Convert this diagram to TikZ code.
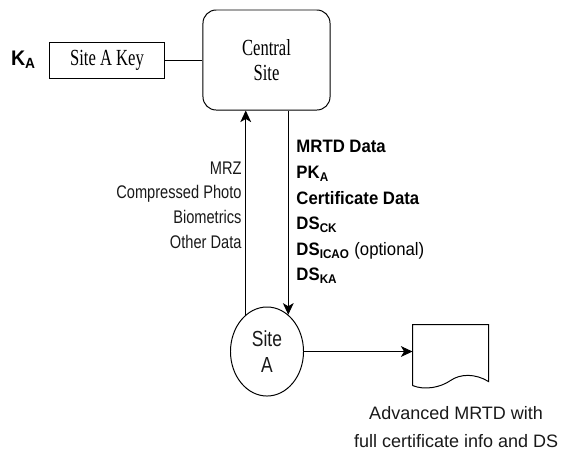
\documentclass[tikz,border=0pt]{standalone}
\usepackage{fontspec}
\setmainfont{Liberation Serif}
\newfontfamily\keyfont[FakeStretch=0.72]{Liberation Serif}
\newfontfamily\flowfont[FakeStretch=0.8]{Liberation Sans}
\newfontfamily\datafont[FakeStretch=0.93]{Liberation Sans}
\newfontfamily\capfont{Liberation Sans}
\usetikzlibrary{arrows.meta,shapes.geometric,positioning}

\begin{document}
\begin{tikzpicture}[x=0.025cm,y=-0.025cm,line width=0.7pt,
	flow/.style={-{Stealth[length=0.29cm,width=0.27cm,inset=0.08cm]}},
	box/.style={draw,inner sep=0pt},
	serifbox/.style={font=\keyfont\fontsize{16.4}{17.8}\selectfont}]
	\useasboundingbox (0,0) rectangle (569,450);

	\node (central) at (266.5,60) [box,serifbox,rounded corners=0.33cm,minimum width=3.175cm,minimum height=2.5cm,align=center] {Central\\Site};
	\node (key) at (107,60) [box,serifbox,minimum width=2.85cm,minimum height=0.9cm] {Site A Key};
	\node (ka) [left=0.33cm of key,inner sep=0pt,font=\datafont\bfseries\fontsize{15}{18}\selectfont] {K\textsubscript{A}};
	\node (siteA) at (267,351.5) [draw,ellipse,inner sep=0pt,minimum width=1.825cm,minimum height=2.225cm,align=center,font=\flowfont\fontsize{15.5}{18.5}\selectfont,text=black!90] {Site\\A};
	\node (doc) at (450.5,355) [minimum width=1.875cm,minimum height=1.5cm,inner sep=0pt] {};
	\node (caption) [below=0.52cm of doc,xshift=0.14cm,inner sep=0pt,align=center,font=\capfont\fontsize{12.8}{19.4}\selectfont,text=black!90] {Advanced MRTD with\\full certificate info and DS};

	% what goes up to the central site
	\node (upload) at (242,161) [anchor=north east,inner sep=0pt,align=right,font=\flowfont\fontsize{13}{17.6}\selectfont,text=black!90] {MRZ\\Compressed Photo\\Biometrics\\Other Data};
	% what comes back down
	\node (download) at (296,140) [anchor=north west,inner sep=0pt,align=left,font=\datafont\bfseries\fontsize{12.8}{18.2}\selectfont] {MRTD Data\\PK\textsubscript{A}\\Certificate Data\\DS\textsubscript{CK}\\DS\textsubscript{ICAO} {\mdseries(optional)}\\DS\textsubscript{KA}};

	\draw (key) -- (central);
	\draw [flow] (siteA.120) -- (siteA.120 |- central.south);
	\draw [flow] (central.south -| siteA.60) -- (siteA.60);
	\draw [flow] (siteA.east) -- (siteA.east -| doc.west);

	\draw (doc.south west) -- (doc.north west) -- (doc.north east) -- ++(0,57)
		.. controls +(-13,-8) and +(10,-7) .. ++(-38,-1)
		.. controls +(-10,7) and +(12,5) .. (doc.south west);
\end{tikzpicture}
\end{document}
